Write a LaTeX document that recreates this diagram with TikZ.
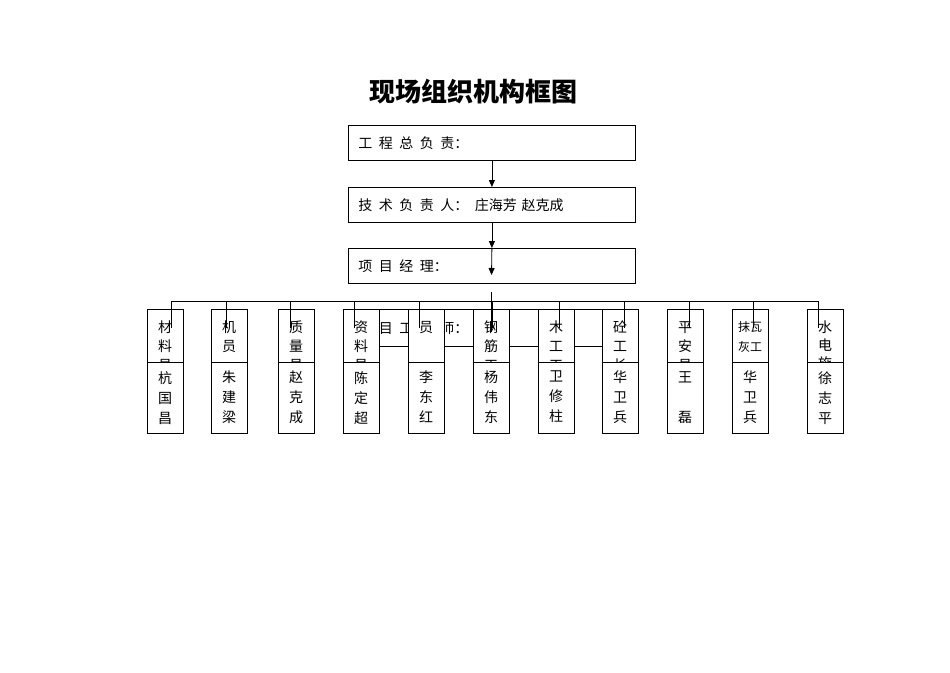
\documentclass[tikz,border=0pt]{standalone}
\usepackage{fontspec}
\setmainfont{Noto Sans CJK SC}
\usetikzlibrary{arrows.meta}

\newcommand\kg{\hspace{6.5pt}}

\tikzset{
  topbox/.style={draw, line width=0.8pt, minimum width=287pt, minimum height=35pt,
    text width=267pt, inner xsep=10pt, inner ysep=0pt, align=left, anchor=north west,
    font=\fontsize{14}{17}\selectfont},
  colup/.style={draw, fill=white, line width=0.8pt, minimum width=36pt, minimum height=53pt,
    anchor=north west, inner sep=0pt},
  coldn/.style={colup, minimum height=71pt},
  coltxt/.style={anchor=north, align=center, inner sep=0pt},
  arr/.style={-{Triangle[length=7pt,width=6pt]}, line width=0.8pt},
  link/.style={line width=0.8pt}
}

\begin{document}
\begin{tikzpicture}[x=1pt,y=-1pt]
  \useasboundingbox[fill=white] (0,0) rectangle (950,672);

  % title
  \node[font=\fontsize{26}{30}\selectfont\bfseries] (title) at (473,92) {现场组织机构框图};

  % top chain
  \node[topbox] (zf) at (348,125) {工\kg 程\kg 总\kg 负\kg 责：};
  \node[topbox] (js) at (348,187) {技\kg 术\kg 负\kg 责\kg 人：\kg 庄海芳 赵克成};
  \node[topbox] (xm) at (348,248) {项\kg 目\kg 经\kg 理：};
  \coordinate (m3) at (491.5,275);
  \coordinate (k1) at (491.5,292);
  \coordinate (k2) at (491.5,332);
  \draw[arr] (zf.south) -- (js.north);
  \draw[arr] (js.south) -- (xm.north);
  \draw[arr] (xm.north) -- (m3);

  % box behind the columns
  \node[topbox, minimum height=37pt] (gcs) at (348,309) {项\kg 目\kg 工\kg 程\kg 师：};

  % columns
  \foreach \x/\dx/\fs/\bs/\up/\dn [count=\i] in {
      147/171/14/19/材\\料\\员/杭\\国\\昌,
      211/226/14/19/机\\员/朱\\建\\梁,
      278/290/14/19/质\\量\\员/赵\\克\\成,
      343/354/14/19/资\\料\\员/陈\\定\\超,
      408/419/14/19/员/李\\东\\红,
      473/492/14/19/钢\\筋\\工/杨\\伟\\东,
      538/559/14/19/木\\工\\工/卫\\修\\柱,
      602/624/14/19/砼\\工\\长/华\\卫\\兵,
      667/689/14/19/平\\安\\员/王\\~\\磊,
      732/753/12/20/抹瓦\\灰工/华\\卫\\兵,
      807/818/14/18/水\\电\\施/徐\\志\\平} {
    \node[colup] (u\i) at (\x,309) {};
    \node[coltxt, font=\fontsize{\fs}{\bs}\selectfont] (t\i) at (\x+18,321) {\up};
    \node[coldn] (d\i) at (\x,362) {};
    \node[coltxt, font=\fontsize{14}{20}\selectfont] (n\i) at (\x+18,371) {\dn};
    \coordinate (s\i) at (\dx,301);
    \draw[link] (s\i) -- ++(0,27);
  }

  % bus
  \draw[link] (s1) -- (s11);
  \draw[link] (k1) -- (k2);
\end{tikzpicture}
\end{document}
